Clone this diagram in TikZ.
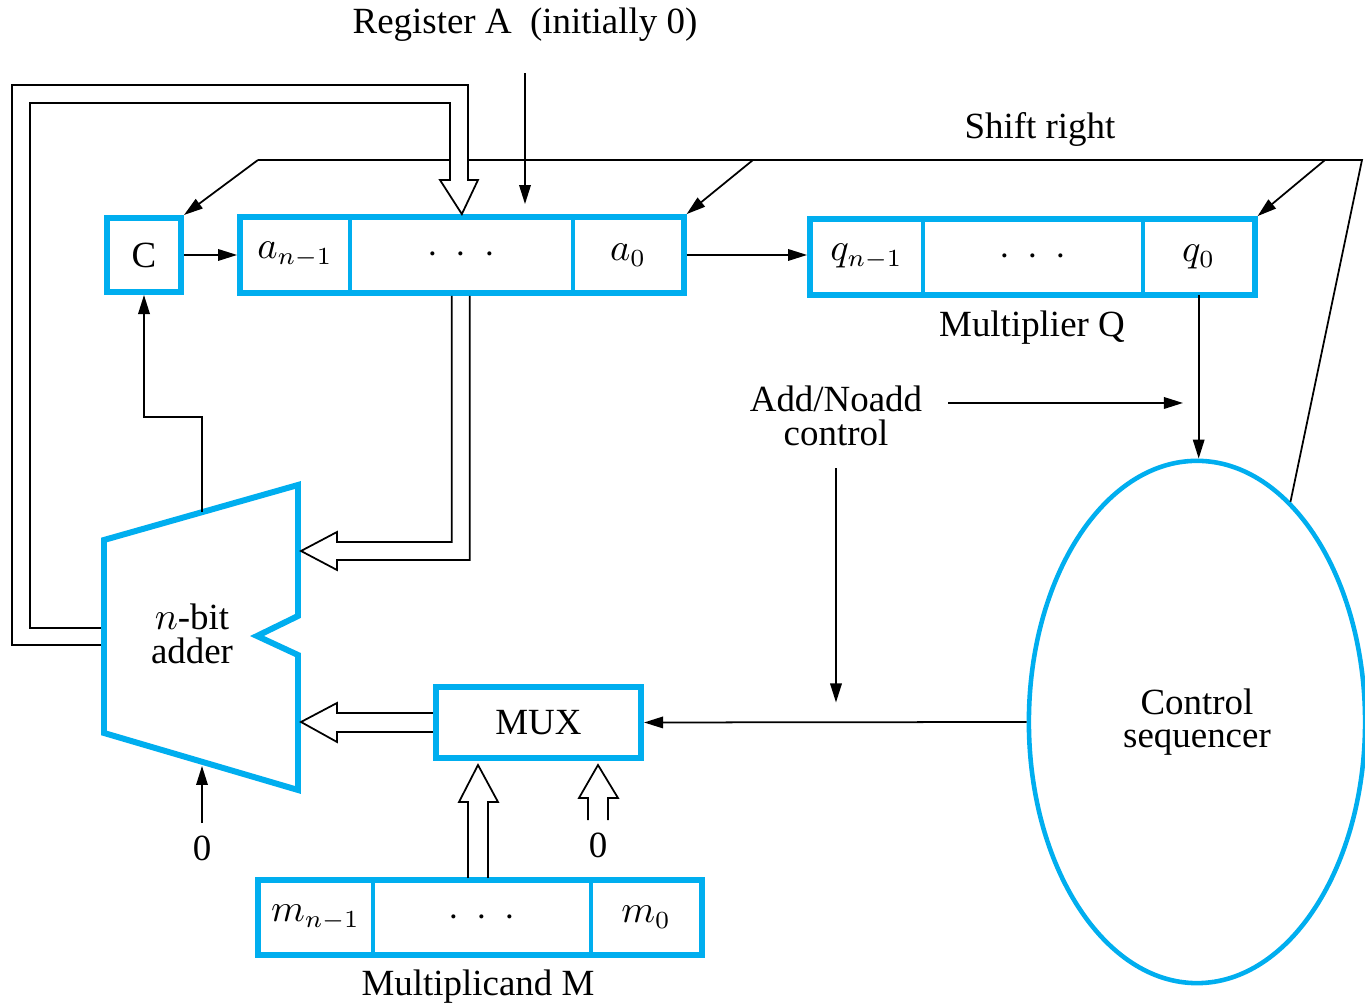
\documentclass[tikz,border=0pt]{standalone}
\usepackage{fontspec}
\setmainfont{Liberation Serif}
\usetikzlibrary{positioning, arrows.meta, fit, shapes.geometric, calc}
\definecolor{regblue}{HTML}{00AEEF}

\tikzset{
  cell/.style={draw=regblue, line width=0.5pt, inner sep=0pt, minimum height=0.74cm},
  reg/.style={draw=regblue, line width=1.7pt, inner sep=0pt},
  sig/.style={-{Triangle[length=1.9mm, width=1.15mm]}, line width=0.5pt},
  bus/.style={line width=0.5pt},
}
\newcommand{\regdots}{$\cdot\hspace{2.6pt}\cdot\hspace{2.6pt}\cdot$}

\begin{document}
\begin{tikzpicture}[x=0.01cm, y=-0.01cm, font=\fontsize{10.5}{9.5}\selectfont]
  \useasboundingbox (0,0) rectangle (1365,1007);

  % register A and carry
  \node[reg, minimum size=0.74cm] (C) at (144,255) {C};
  \node[cell, minimum width=1.08cm] (an) at (295,255) {$a_{n-1}$};
  \node[cell, minimum width=2.21cm, right=0pt of an] (adots) {\regdots};
  \node[cell, minimum width=1.09cm, right=0pt of adots] (a0) {$a_0$};
  \node[reg, fit=(an)(a0)] (A) {};

  % register Q
  \node[cell, minimum width=1.11cm] (qn) at (866.5,257) {$q_{n-1}$};
  \node[cell, minimum width=2.18cm, right=0pt of qn] (qdots) {\regdots};
  \node[cell, minimum width=1.10cm, right=0pt of qdots] (q0) {$q_0$};
  \node[reg, fit=(qn)(q0)] (Q) {};

  % register M
  \node[cell, minimum width=1.13cm] (mn) at (315.5,917.5) {$m_{n-1}$};
  \node[cell, minimum width=2.16cm, right=0pt of mn] (mdots) {\regdots};
  \node[cell, minimum width=1.09cm, right=0pt of mdots] (m0) {$m_0$};
  \node[reg, fit=(mn)(m0)] (M) {};

  \node[reg, minimum width=2.05cm, minimum height=0.71cm] (MUX) at (538.5,722.5) {MUX};
  \node[ellipse, draw=regblue, line width=1.3pt, minimum width=3.36cm, minimum height=5.22cm,
        inner sep=0pt, align=center] (seq) at (1197,722) {Control\\sequencer};

  % labels
  \node (rega) at (525,25) {Register A\ \ (initially 0)};
  \node (shift) at (1040,130) {Shift right};
  \node (mulq) at (1032,328) {Multiplier Q};
  \node (mulm) at (478,987) {Multiplicand M};
  \node[align=center] (addctl) at (836,416) {Add/Noadd\\control};
  \node (zadd) at (202,848) {0};
  \node (zmux) at (598,845) {0};

  % shift right line
  \coordinate (sr-c) at (258,160);
  \coordinate (sr-a) at (753,160);
  \coordinate (sr-q) at (1325,160);
  \coordinate (sr-e) at (1362,160);
  \draw[line width=0.5pt] (seq.67) -- (sr-e) -- (sr-c);
  \draw[sig] (sr-c) -- (C.north east);
  \draw[sig] (sr-a) -- (A.north east);
  \draw[sig] (sr-q) -- (Q.north east);

  % adder outline
  \coordinate (ad-tl) at (104,540);
  \coordinate (ad-tr) at (298,485);
  \coordinate (ad-n1) at (298,616);
  \coordinate (ad-nt) at (257,636);
  \coordinate (ad-n2) at (298,655);
  \coordinate (ad-br) at (298,790);
  \coordinate (ad-bl) at (104,733);

  % sum fed back into A
  \filldraw[bus, fill=white] (104,628) -| (30,103) -| (450,180) -- (440,180) -- (A.north)
    -- (478,180) -- (468,180) |- (12,85) |- (104,645);

  \draw[line width=1.7pt, draw=regblue, fill=white, line join=miter]
    (ad-tl) -- (ad-tr) -- (ad-n1) -- (ad-nt) -- (ad-n2) -- (ad-br) -- (ad-bl) -- cycle;
  \node[align=center] (adder) at (192,634) {$n$-bit\\adder};

  % buses into the adder and the MUX
  \draw[bus] ($(A.south)+(-10,0)$) |- (337,542) -- (337,532) -- (301,551) -- (337,570)
    -- (337,560) -| ($(A.south)+(8,0)$);
  \draw[bus] ($(MUX.west)+(0,-9.5)$) -- (337,713) -- (337,703) -- (301,722) -- (337,742)
    -- (337,732) -- ($(MUX.west)+(0,9.5)$);
  \draw[bus] (468,878) -- (468,802) -- (459,802) -- (478,765) -- (498,802) -- (488,802) -- (488,878);
  \draw[bus] ($(zmux.north)+(-10,0)$) -- (588,798) -- (579,798) -- (598,765) -- (618,798)
    -- (608,798) -- ($(zmux.north)+(10,0)$);

  % control signals
  \draw[sig] (202,512) -- (202,417) -| (C.south);
  \draw[sig] (zadd.north) -- (202,766);
  \draw[sig] (C.east) -- (A.west);
  \draw[sig] (A.east) -- (A.east -| Q.west);
  \draw[sig, shorten <=0.19cm, shorten >=0.1cm] (rega.south) -- (rega.south |- A.north);
  \draw[sig] (q0.south) -- (q0.south |- seq.north);
  \draw[sig] (seq.west) -- (MUX.east);
  \coordinate (ctl-s) at (948,403);
  \coordinate (ctl-e) at (1183,403);
  \draw[sig] (ctl-s) -- (ctl-e);
  \draw[sig, shorten <=0.1cm, shorten >=0.2cm] (addctl.south) -- (addctl.south |- MUX.east);
\end{tikzpicture}
\end{document}
